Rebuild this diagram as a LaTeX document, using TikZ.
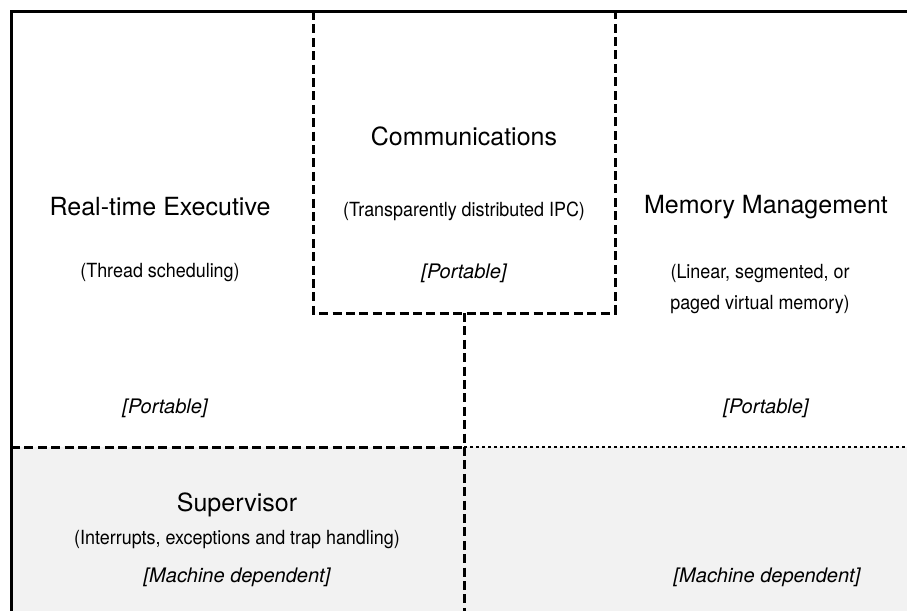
\documentclass[tikz,border=0pt]{standalone}
\usepackage{fontspec}
\setmainfont{TeX Gyre Heros}
\newfontfamily\narrowfont[FakeStretch=0.92]{TeX Gyre Heros}
\usepackage{tikz}

\tikzset{
	title/.style={font=\fontsize{12.5}{15}\selectfont, inner sep=0pt},
	subtitle/.style={font=\narrowfont\fontsize{9.75}{15.5}\selectfont, inner sep=0pt, align=center},
	tag/.style={font=\itshape\fontsize{10}{12}\selectfont, inner sep=0pt},
	rim/.style={line width=1.5pt},
	split/.style={line width=1.5pt, dash pattern=on 4.5pt off 2.2pt},
	faint/.style={line width=0.75pt, dash pattern=on 1.5pt off 1.5pt}
}

\begin{document}
\begin{tikzpicture}[x=0.5pt, y=-0.5pt]
			%%%%% START %%%%%
			\useasboundingbox (0, 0) rectangle (907, 611);
			
			\fill[black!5] (11, 447) rectangle (907, 611);
			
			\draw[rim] (11, 611) -- (11, 11) -- (907, 11);
			
			\draw[split] (313, 11) -- (313, 313) -- (615, 313) -- (615, 11);
			\draw[split] (464, 313) -- (464, 611);
			\draw[split] (11, 447) -- (464, 447);
			\draw[faint] (464, 447) -- (907, 447);
			
			\node[title] (comm) at (464, 136) {Communications};
			\node[subtitle] (commsub) at (464, 211) {(Transparently distributed IPC)};
			\node[tag] (commtag) at (464, 273) {[Portable]};
			
			\node[title] (exec) at (160, 207) {Real-time Executive};
			\node[subtitle] (execsub) at (160, 273) {(Thread scheduling)};
			\node[tag] (exectag) at (165, 408) {[Portable]};
			
			\node[title] (mem) at (766, 207) {Memory Management};
			\node[subtitle] (memsub) at (760, 289) {(Linear, segmented, or\\paged virtual memory)};
			\node[tag] (memtag) at (766, 408) {[Portable]};
			
			\node[title] (sup) at (237, 505) {Supervisor};
			\node[subtitle] (supsub) at (237, 540) {(Interrupts, exceptions and trap handling)};
			\node[tag] (suptag) at (237, 577) {[Machine dependent]};
			
			\node[tag] (hwtag) at (767, 577) {[Machine dependent]};
			
			%%%%% END %%%%%
		\end{tikzpicture}
\end{document}
